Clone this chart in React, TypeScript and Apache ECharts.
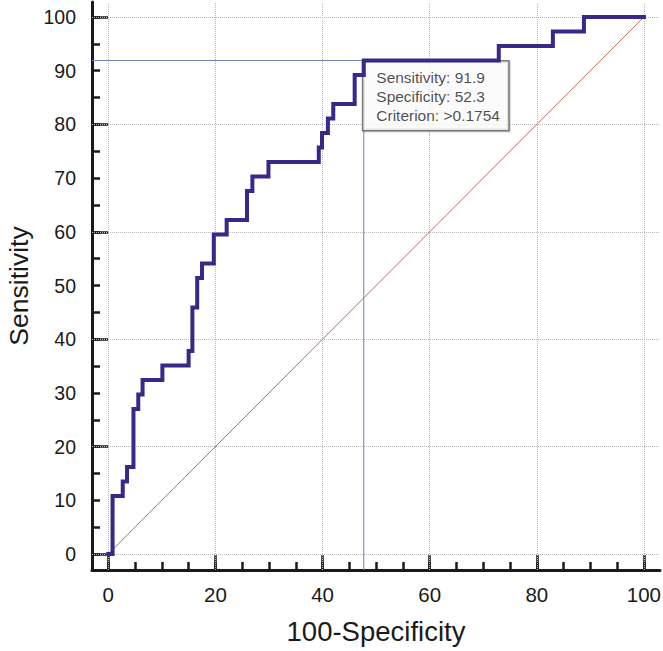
import React, { useEffect, useRef } from "react";
import * as echarts from "echarts";

// ROC curve vertices (100-Specificity, Sensitivity), drawn as a step line
const fprValues = [0, 0.8, 2.7, 3.5, 4.7, 5.6, 6.4, 10.1, 15.0, 15.7, 16.6, 17.5, 19.7, 22.1, 25.9, 26.9, 29.9, 39.3, 39.9, 41.0, 42.0, 46.0, 47.7, 72.9, 83.0, 88.8, 100];
const tprValues = [0, 10.8, 13.5, 16.2, 27.0, 29.7, 32.4, 35.1, 37.8, 45.9, 51.4, 54.1, 59.5, 62.2, 67.6, 70.3, 73.0, 75.7, 78.4, 81.1, 83.8, 89.2, 91.9, 94.6, 97.3, 100, 100];

// Chance diagonal
const diagonalX = [0, 100];
const diagonalY = [0, 100];

// Optimal cut-off
const cutoffSensitivity = 91.9;
const cutoffSpecificity = 52.3;
const cutoffCriterion = ">0.1754";

// Axis ticks / labels / grid
const xTickLabels = [0, 20, 40, 60, 80, 100];
const yTickLabels = [0, 10, 20, 30, 40, 50, 60, 70, 80, 90, 100];
const majorTicks = [0, 20, 40, 60, 80, 100];
const minorTicks = [0, 5, 10, 15, 20, 25, 30, 35, 40, 45, 50, 55, 60, 65, 70, 75, 80, 85, 90, 95, 100];
const gridValues = [0, 20, 40, 60, 80, 100];

const X_MIN = -3.04;
const X_MAX = 103;
const Y_MIN = -2.98;
const Y_MAX = 102.8;

const FONT = "'Liberation Sans', Arial, Helvetica, sans-serif";
const INK = "#1a1a1a";

export default function App() {
  const ref = useRef<HTMLDivElement>(null);

  useEffect(() => {
    if (!ref.current) return;
    const chart = echarts.init(ref.current, null, { renderer: "svg" });

    const rocData = fprValues.map((x, i) => [x, tprValues[i]]);
    const diagData = diagonalX.map((x, i) => [x, diagonalY[i]]);
    const cutX = +(100 - cutoffSpecificity).toFixed(1);
    const crossData = [
      [X_MIN, cutoffSensitivity],
      [cutX, cutoffSensitivity],
      [cutX, Y_MIN],
    ];

    const axisLine = { show: true, onZero: false, lineStyle: { color: INK, width: 3 } };
    const tickStyle = { color: INK, width: 2.5 };

    chart.setOption({
      animation: false,
      backgroundColor: "#ffffff",
      grid: {
        left: 92,
        right: 3,
        top: 2,
        bottom: 81,
        containLabel: false,
        outerBoundsMode: "none",
      },
      xAxis: [
        {
          type: "value",
          position: "bottom",
          min: X_MIN,
          max: X_MAX,
          axisLine,
          axisTick: { show: true, inside: true, length: 15, customValues: majorTicks, lineStyle: tickStyle },
          axisLabel: {
            show: true,
            customValues: xTickLabels,
            margin: 14,
            fontSize: 20.5,
            fontFamily: FONT,
            color: INK,
          },
          splitLine: { show: false },
          name: "100-Specificity",
          nameLocation: "middle",
          nameGap: 47,
          nameMoveOverlap: false,
          nameTextStyle: { fontSize: 27.5, fontFamily: FONT, color: INK },
        },
        {
          type: "value",
          position: "bottom",
          min: X_MIN,
          max: X_MAX,
          axisLine: { show: false, onZero: false },
          axisTick: { show: true, inside: true, length: 8, customValues: minorTicks, lineStyle: tickStyle },
          axisLabel: { show: false },
          splitLine: { show: false },
        },
      ],
      yAxis: [
        {
          type: "value",
          position: "left",
          min: Y_MIN,
          max: Y_MAX,
          axisLine,
          axisTick: { show: true, inside: true, length: 16, customValues: majorTicks, lineStyle: tickStyle },
          axisLabel: {
            show: true,
            customValues: yTickLabels,
            margin: 16,
            fontSize: 19.5,
            fontFamily: FONT,
            color: INK,
          },
          splitLine: { show: false },
          name: "Sensitivity",
          nameLocation: "middle",
          nameGap: 60,
          nameMoveOverlap: false,
          nameTextStyle: { fontSize: 26.5, fontFamily: FONT, color: INK },
        },
        {
          type: "value",
          position: "left",
          min: Y_MIN,
          max: Y_MAX,
          axisLine: { show: false, onZero: false },
          axisTick: { show: true, inside: true, length: 8, customValues: minorTicks, lineStyle: tickStyle },
          axisLabel: { show: false },
          splitLine: { show: false },
        },
      ],
      series: [
        {
          name: "Reference",
          type: "line",
          xAxisIndex: 0,
          yAxisIndex: 0,
          data: diagData,
          symbol: "none",
          silent: true,
          z: 2,
          lineStyle: { color: "#c0685c", width: 1 },
          markLine: {
            silent: true,
            symbol: ["none", "none"],
            label: { show: false },
            lineStyle: { color: "#b8b8b8", width: 1, type: "dotted" },
            data: [
              ...gridValues.map((v) => ({ xAxis: v })),
              ...gridValues.map((v) => ({ yAxis: v })),
            ],
            z: 1,
          },
        },
        {
          name: "Cut-off",
          type: "line",
          xAxisIndex: 0,
          yAxisIndex: 0,
          data: crossData,
          symbol: "none",
          silent: true,
          z: 3,
          lineStyle: { color: "#6f87b6", width: 1 },
        },
        {
          name: "Criterion",
          type: "scatter",
          xAxisIndex: 0,
          yAxisIndex: 0,
          data: [[cutX, cutoffSensitivity]],
          symbolSize: 2,
          itemStyle: { color: "rgba(0,0,0,0)" },
          silent: true,
          z: 4,
          label: {
            show: true,
            position: [0.5, 2],
            align: "left",
            verticalAlign: "top",
            formatter: () =>
              `Sensitivity: ${cutoffSensitivity}\nSpecificity: ${cutoffSpecificity}\nCriterion: ${cutoffCriterion}`,
            fontSize: 15.5,
            lineHeight: 18.8,
            fontFamily: FONT,
            color: "#1e1e1e",
            width: 120,
            padding: [7, 12, 5, 13],
            backgroundColor: "#ffffff",
            borderColor: "#5e5e5e",
            borderWidth: 1.5,
            shadowColor: "rgba(0,0,0,0.2)",
            shadowBlur: 1.5,
            shadowOffsetX: 1,
            shadowOffsetY: 1,
          },
        },
        {
          name: "ROC",
          type: "line",
          xAxisIndex: 0,
          yAxisIndex: 0,
          data: rocData,
          step: "end",
          symbol: "none",
          silent: true,
          z: 6,
          lineStyle: { color: "#38288a", width: 4, join: "miter", cap: "square" },
        },
      ],
    });

    return () => chart.dispose();
  }, []);

  return (
    <div
      ref={ref}
      style={{ position: "fixed", left: 0, top: 0, width: 663, height: 651 }}
    />
  );
}
